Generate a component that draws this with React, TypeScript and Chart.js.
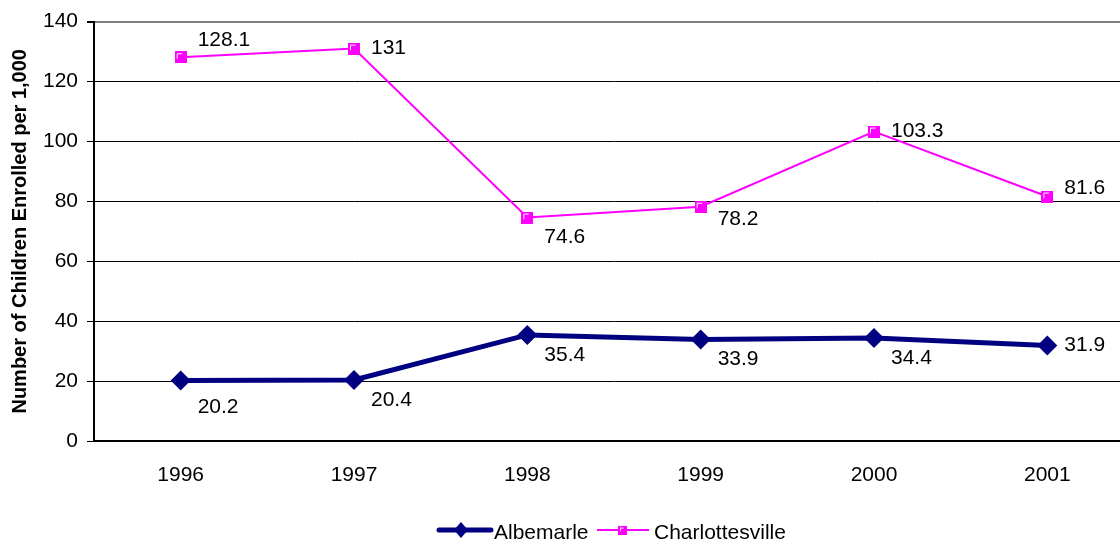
import React, { useEffect, useRef } from "react";
import { Chart, registerables } from "chart.js";

Chart.register(...registerables);

const years = ["1996", "1997", "1998", "1999", "2000", "2001"];
const albemarle = [20.2, 20.4, 35.4, 33.9, 34.4, 31.9];
const charlottesville = [128.1, 131, 74.6, 78.2, 103.3, 81.6];
const albemarlePlacement = ["belowFar", "below", "below", "below", "below", "right"];
const charlottesvillePlacement = ["above", "right", "below", "belowNear", "right", "upRight"];

const NAVY = "#000080";
const MAGENTA = "#FF00FF";
const FONT = "'Liberation Sans', Arial, sans-serif";
const FS = 21;

function makeSquareMarker(size: number) {
  const c = document.createElement("canvas");
  c.width = size;
  c.height = size;
  const ctx = c.getContext("2d")!;
  ctx.fillStyle = MAGENTA;
  ctx.fillRect(0, 0, size, size);
  ctx.strokeStyle = "#ffffff";
  ctx.lineWidth = 1;
  ctx.beginPath();
  ctx.moveTo(2.5, Math.round(size * 0.6) + 0.5);
  ctx.lineTo(2.5, 2.5);
  ctx.lineTo(Math.round(size * 0.6) + 0.5, 2.5);
  ctx.stroke();
  return c;
}

const dyFor: Record<string, number> = {
  above: -17,
  right: 0,
  upRight: -8,
  below: 20,
  belowNear: 12,
  belowFar: 27,
};

const labelPlugin = {
  id: "valueLabels",
  afterDatasetsDraw(chart: any) {
    const ctx = chart.ctx;
    ctx.save();
    ctx.font = `${FS}px ${FONT}`;
    ctx.fillStyle = "#000";
    ctx.textAlign = "left";
    ctx.textBaseline = "middle";
    const placements = [albemarlePlacement, charlottesvillePlacement];
    chart.data.datasets.forEach((ds: any, di: number) => {
      const meta = chart.getDatasetMeta(di);
      meta.data.forEach((pt: any, i: number) => {
        const dy = dyFor[placements[di][i]] ?? 0;
        ctx.fillText(String(ds.data[i]), pt.x + 17, pt.y + dy);
      });
    });
    ctx.restore();
  },
};

const legendPlugin = {
  id: "customLegend",
  afterDraw(chart: any) {
    const ctx = chart.ctx;
    ctx.save();
    const y = 530;
    // Albemarle
    ctx.strokeStyle = NAVY;
    ctx.lineWidth = 5;
    ctx.lineCap = "round";
    ctx.beginPath();
    ctx.moveTo(439, y);
    ctx.lineTo(491, y);
    ctx.stroke();
    ctx.fillStyle = NAVY;
    ctx.beginPath();
    ctx.moveTo(461, y - 8);
    ctx.lineTo(468, y);
    ctx.lineTo(461, y + 8);
    ctx.lineTo(454, y);
    ctx.closePath();
    ctx.fill();
    // Charlottesville
    ctx.strokeStyle = MAGENTA;
    ctx.lineWidth = 2;
    ctx.lineCap = "butt";
    ctx.beginPath();
    ctx.moveTo(597, y);
    ctx.lineTo(649, y);
    ctx.stroke();
    ctx.drawImage(makeSquareMarker(9), 618, y - 4.5);
    ctx.font = `${FS}px ${FONT}`;
    ctx.fillStyle = "#000";
    ctx.textAlign = "left";
    ctx.textBaseline = "middle";
    ctx.fillText("Albemarle", 494, y + 3);
    ctx.fillText("Charlottesville", 654, y + 3);
    ctx.restore();
  },
};

export default function App() {
  const ref = useRef<HTMLCanvasElement | null>(null);
  useEffect(() => {
    if (!ref.current) return;
    const marker = makeSquareMarker(12);
    const chart = new Chart(ref.current, {
      type: "line",
      data: {
        labels: years,
        datasets: [
          {
            label: "Albemarle",
            data: albemarle,
            borderColor: NAVY,
            backgroundColor: NAVY,
            borderWidth: 5,
            pointStyle: "rectRot",
            pointRadius: 10,
            pointBorderWidth: 0,
            pointBackgroundColor: NAVY,
            tension: 0,
          },
          {
            label: "Charlottesville",
            data: charlottesville,
            borderColor: MAGENTA,
            backgroundColor: MAGENTA,
            borderWidth: 2,
            pointStyle: marker as any,
            pointRadius: 6,
            tension: 0,
          },
        ],
      },
      options: {
        responsive: false,
        animation: false,
        devicePixelRatio: 1,
        layout: { autoPadding: false, padding: { top: 20, left: 0, right: 0, bottom: 0 } },
        plugins: {
          legend: { display: false },
          tooltip: { enabled: false },
        },
        scales: {
          x: {
            offset: true,
            grid: { display: false },
            border: { display: true, color: "#000", width: 2 },
            ticks: { color: "#000", font: { family: FONT, size: FS }, padding: 14, maxRotation: 0 },
            afterFit: (s: any) => {
              s.height = 101;
            },
          },
          y: {
            min: 0,
            max: 140,
            ticks: { stepSize: 20, color: "#000", font: { family: FONT, size: FS }, padding: 9 },
            grid: {
              color: (c: any) => (c.tick && c.tick.value === 140 ? "#808080" : "#000"),
              lineWidth: (c: any) => (c.tick && c.tick.value === 140 ? 2 : 1),
              tickLength: 7,
              tickColor: "#000",
            },
            border: { display: true, color: "#000", width: 2 },
            title: {
              display: true,
              text: "Number of Children Enrolled per 1,000",
              color: "#000",
              font: { family: FONT, size: 20, weight: "bold" },
              padding: { top: 8, bottom: 0 },
            },
            afterFit: (s: any) => {
              s.width = 94;
            },
          },
        },
      },
      plugins: [labelPlugin, legendPlugin],
    });
    return () => chart.destroy();
  }, []);
  return (
    <div style={{ position: "absolute", left: 0, top: 0, width: 1120, height: 542, overflow: "hidden", background: "#fff" }}>
      <canvas ref={ref} width={1134} height={542} style={{ width: 1134, height: 542, display: "block" }} />
    </div>
  );
}
